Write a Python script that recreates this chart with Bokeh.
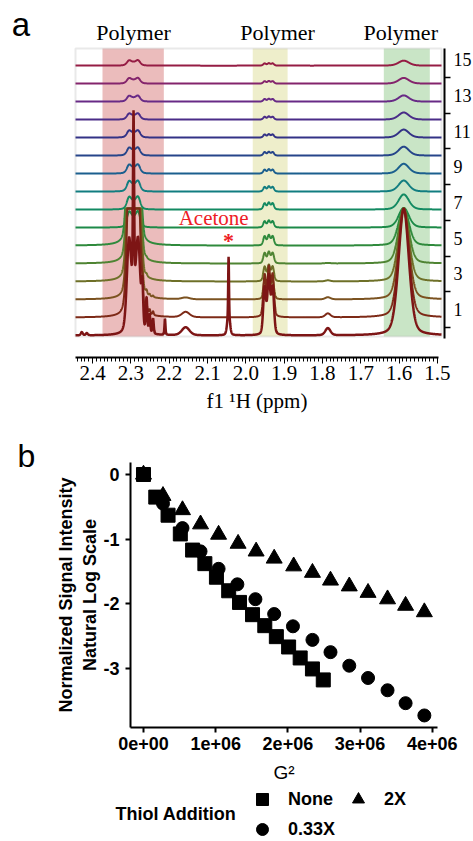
import numpy as np
from bokeh.plotting import figure
from bokeh.layouts import column
from bokeh.models import (Range1d, FixedTicker, BoxAnnotation, Label, Legend,
                          LegendItem, NumeralTickFormatter)
from bokeh.embed import file_html
from bokeh.resources import INLINE

# ======================= Panel a : stacked 1H NMR spectra =======================
TRACE_INDEX = list(range(16))                      # 0 = bottom spectrum
RIGHT_TICKS = [1, 3, 5, 7, 9, 11, 13, 15]
RIGHT_MINOR_TICKS = [0, 2, 4, 6, 8, 10, 12, 14]
PPM_TICKS = [2.4, 2.3, 2.2, 2.1, 2.0, 1.9, 1.8, 1.7, 1.6, 1.5]
TRACE_COLORS = ["#7d1515", "#7d2a17", "#7b5220", "#6e7028", "#4f8433", "#2f8a3c",
                "#1d8a48", "#138a62", "#117d80", "#1b5f8e", "#26458a", "#333286",
                "#4a2c88", "#682a86", "#84246c", "#951c44"]

# peak positions (ppm) and half widths (ppm)
PEAK_PPM = [2.305, 2.293, 2.281, 2.293, 2.270, 2.259, 2.251, 2.242, 2.211, 2.157,
            2.045, 2.045, 1.951, 1.940, 1.930, 1.786, 1.588, 2.428, 2.415]
PEAK_HWHM = [0.0065, 0.0018, 0.0065, 0.013, 0.0025, 0.0022, 0.002, 0.002, 0.0015, 0.012,
             0.0012, 0.004, 0.0042, 0.0042, 0.0042, 0.008, 0.016, 0.003, 0.003]
# peak heights for spectra 0..15 (in units of the stacking offset)
AMP_A1 = [4.5, 6, 6, 6, 6, 6, 0.6, 0.48, 0.4, 0.34, 0.3, 0.27, 0.23, 0.22, 0.21, 0.2]
AMP_A0 = [9.9, 0, 0, 0, 0, 0, 0, 0, 0, 0, 0, 0, 0, 0, 0, 0]
AMP_A2 = [4.5, 6, 6, 6, 6, 6, 0.62, 0.5, 0.42, 0.35, 0.31, 0.28, 0.24, 0.23, 0.22, 0.21]
AMP_AB = [1.5, 4, 4, 4, 4, 4, 0.51, 0.41, 0.34, 0.29, 0.26, 0.23, 0.2, 0.19, 0.18, 0.17]
AMP_T1 = [2.2, 0.6, 0.45, 0.4, 0.35, 0.3, 0.05, 0, 0, 0, 0, 0, 0, 0, 0, 0]
AMP_T2 = [1.9, 0.4, 0.2, 0.1, 0.05, 0, 0, 0, 0, 0, 0, 0, 0, 0, 0, 0]
AMP_T3 = [1.05, 0.25, 0.1, 0, 0, 0, 0, 0, 0, 0, 0, 0, 0, 0, 0, 0]
AMP_T4 = [0.85, 0.2, 0.08, 0, 0, 0, 0, 0, 0, 0, 0, 0, 0, 0, 0, 0]
AMP_S = [0.9, 0, 0, 0, 0, 0, 0, 0, 0, 0, 0, 0, 0, 0, 0, 0]
AMP_E = [0.45, 0.3, 0.1, 0, 0, 0, 0, 0, 0, 0, 0, 0, 0, 0, 0, 0]
AMP_AC = [3.2, 0, 0, 0, 0, 0, 0, 0, 0, 0, 0, 0, 0, 0, 0, 0]
AMP_ACB = [1.2, 0, 0, 0, 0, 0, 0, 0, 0, 0, 0, 0, 0, 0, 0, 0]
AMP_B1 = [2.6, 2.3, 1.05, 0.8, 0.57, 0.5, 0.34, 0.34, 0.25, 0.21, 0.19, 0.17, 0.15, 0.14, 0.13, 0.12]
AMP_B2 = [3.2, 2.7, 1.15, 0.87, 0.62, 0.55, 0.37, 0.37, 0.28, 0.23, 0.2, 0.18, 0.17, 0.15, 0.14, 0.13]
AMP_B3 = [2.6, 2.3, 1.05, 0.8, 0.57, 0.5, 0.34, 0.34, 0.25, 0.21, 0.19, 0.17, 0.15, 0.14, 0.13, 0.12]
AMP_C = [0.4, 0.22, 0.12, 0.06, 0.03, 0, 0, 0, 0, 0, 0, 0, 0, 0, 0, 0]
AMP_D = [7.1, 6.1, 5.1, 4.1, 3.1, 2.1, 1.1, 0.85, 0.62, 0.55, 0.5, 0.45, 0.4, 0.35, 0.32, 0.28]
AMP_N1 = [0.18, 0, 0, 0, 0, 0, 0, 0, 0, 0, 0, 0, 0, 0, 0, 0]
AMP_N2 = [0.12, 0, 0, 0, 0, 0, 0, 0, 0, 0, 0, 0, 0, 0, 0, 0]
PEAK_AMPS = [AMP_A1, AMP_A0, AMP_A2, AMP_AB, AMP_T1, AMP_T2, AMP_T3, AMP_T4, AMP_S, AMP_E,
             AMP_AC, AMP_ACB, AMP_B1, AMP_B2, AMP_B3, AMP_C, AMP_D, AMP_N1, AMP_N2]
LORENTZ_FRACTION = 0.3
CLIPPED_TRACES = [1, 2, 3, 4, 5]
CLIP_LEVEL = 6.67

REGIONS = [(2.374, 2.214, "#ebbcbc"), (1.982, 1.891, "#eeeecb"), (1.640, 1.520, "#c9e5c6")]
REGION_LABELS = [(2.293, "Polymer"), (1.917, "Polymer"), (1.596, "Polymer")]

# ---- layout constants (panel a): the frame covers the whole figure ----
PA_X = (2.6401, 1.4060)
PA_Y = (-5.042, 18.319)
SPEC_LEFT, SPEC_RIGHT = 2.4444, 1.4895     # grey spectrum box
BOX_BOTTOM, BOX_TOP = -0.5, 15.63
RIGHT_AXIS_AT = 1.4817
BOTTOM_AXIS_AT = -1.68
BASE0, STEP = -0.45, 1.008

pa = figure(frame_width=473, frame_height=417, min_border=0,
            x_range=Range1d(*PA_X), y_range=Range1d(*PA_Y),
            y_axis_location="right", output_backend="svg", toolbar_location=None)
pa.outline_line_color = None
pa.xgrid.visible = False
pa.ygrid.visible = False

for (l, r, c) in REGIONS:
    pa.add_layout(BoxAnnotation(left=l, right=r, bottom=BOX_BOTTOM, top=BOX_TOP,
                                fill_color=c, fill_alpha=1.0, line_color=None, level="underlay"))
pa.add_layout(BoxAnnotation(left=SPEC_LEFT, right=SPEC_RIGHT, bottom=BOX_BOTTOM, top=BOX_TOP,
                            fill_color=None, fill_alpha=0, line_color="#b5b5b5", line_width=2,
                            level="underlay"))

ppm = np.linspace(SPEC_LEFT, SPEC_RIGHT, 2600)
for k in reversed(TRACE_INDEX):
    sig = np.zeros_like(ppm)
    for c, w, amps in zip(PEAK_PPM, PEAK_HWHM, PEAK_AMPS):
        if amps[k] > 0:
            u2 = ((ppm - c) / w) ** 2
            shape = (1 - LORENTZ_FRACTION) * np.exp(-np.log(2) * u2) + LORENTZ_FRACTION / (1.0 + u2)
            sig += amps[k] * shape
    yv = BASE0 + STEP * k + sig
    if k in CLIPPED_TRACES:
        yv = np.minimum(yv, CLIP_LEVEL)
    pa.line(ppm, yv, line_color=TRACE_COLORS[k], line_width=2.5 if k == 0 else 2.0)

# right axis (spectrum number)
ya = pa.yaxis[0]
ya.fixed_location = RIGHT_AXIS_AT
ya.ticker = FixedTicker(ticks=RIGHT_TICKS, minor_ticks=RIGHT_MINOR_TICKS)
ya.major_tick_out = 0
ya.major_tick_in = 0
ya.minor_tick_out = 6
ya.minor_tick_in = 0
ya.axis_line_width = 2
ya.axis_line_color = "black"
ya.minor_tick_line_color = "black"
ya.minor_tick_line_width = 1.5
ya.bounds = (-0.62, BOX_TOP)
ya.major_label_standoff = 3
ya.major_label_text_font = "Liberation Serif"
ya.major_label_text_font_size = "18px"
ya.major_label_text_color = "black"

# bottom axis (ppm)
xa = pa.xaxis[0]
xa.fixed_location = BOTTOM_AXIS_AT
minor_ppm = [round(v, 2) for v in np.arange(1.50, 2.445, 0.01)]
xa.ticker = FixedTicker(ticks=PPM_TICKS, minor_ticks=minor_ppm)
xa.formatter = NumeralTickFormatter(format="0.0")
xa.bounds = (1.4973, SPEC_LEFT)
xa.axis_line_width = 2
xa.axis_line_color = "black"
xa.major_tick_out = 6
xa.major_tick_in = 0
xa.minor_tick_out = 4
xa.minor_tick_in = 0
xa.major_tick_line_color = "black"
xa.minor_tick_line_color = "black"
xa.major_label_standoff = 3
xa.major_label_text_font = "Liberation Serif"
xa.major_label_text_font_size = "21px"
xa.major_label_text_color = "black"
xa.axis_label = "f1 \u00b9H (ppm)"
xa.axis_label_text_font = "Liberation Serif"
xa.axis_label_text_font_style = "normal"
xa.axis_label_text_font_size = "21px"
xa.axis_label_text_color = "black"
xa.axis_label_standoff = 5

for (xc, t) in REGION_LABELS:
    pa.add_layout(Label(x=xc, y=16.53, text=t, text_font="Liberation Serif",
                        text_font_size="22px", text_align="center", text_baseline="middle",
                        text_color="black"))
pa.add_layout(Label(x=2.084, y=6.16, text="Acetone", text_font="Liberation Serif",
                    text_font_size="21px", text_align="center", text_baseline="middle",
                    text_color="#ee1c25"))
pa.add_layout(Label(x=2.045, y=4.9, text="*", text_font="Liberation Serif",
                    text_font_size="22px", text_align="center", text_baseline="middle",
                    text_color="#ee1c25", text_font_style="bold"))
pa.add_layout(Label(x=2.611, y=17.0, text="a", text_font="Liberation Sans",
                    text_font_size="33px", text_align="left", text_baseline="middle",
                    text_color="black"))

# ======================= Panel b : diffusion decay =======================
NONE_G2 = [0, 0.17e6, 0.34e6, 0.51e6, 0.68e6, 0.85e6, 1.01e6, 1.18e6, 1.33e6, 1.51e6,
           1.68e6, 1.84e6, 2.01e6, 2.17e6, 2.34e6, 2.49e6]
NONE_LN = [0, -0.35, -0.63, -0.92, -1.17, -1.38, -1.59, -1.80, -1.98, -2.17,
           -2.34, -2.51, -2.67, -2.84, -3.01, -3.18]
X033_G2 = [0, 0.27e6, 0.54e6, 0.79e6, 1.04e6, 1.30e6, 1.55e6, 1.81e6, 2.07e6, 2.34e6,
           2.59e6, 2.85e6, 3.11e6, 3.38e6, 3.63e6, 3.89e6]
X033_LN = [0, -0.45, -0.83, -1.19, -1.46, -1.70, -1.93, -2.16, -2.35, -2.56,
           -2.75, -2.96, -3.15, -3.34, -3.54, -3.73]
X2_G2 = [0, 0.27e6, 0.54e6, 0.79e6, 1.04e6, 1.31e6, 1.56e6, 1.81e6, 2.08e6, 2.34e6,
         2.59e6, 2.85e6, 3.11e6, 3.38e6, 3.63e6, 3.89e6]
X2_LN = [0, -0.33, -0.55, -0.77, -0.93, -1.07, -1.19, -1.30, -1.42, -1.52,
         -1.64, -1.73, -1.83, -1.93, -2.03, -2.13]
G2_TICKS = [0, 1e6, 2e6, 3e6, 4e6]
G2_TICK_LABELS = ["0e+00", "1e+06", "2e+06", "3e+06", "4e+06"]
LN_TICKS = [0, -1, -2, -3]
LN_TICK_LABELS = ["0", "-1", "-2", "-3"]

# ---- layout constants (panel b): the frame covers the whole figure ----
PB_X = (-1.98061e6, 4.57064e6)
PB_Y = (-5.6811, 0.88235)
LEFT_AXIS_AT = -0.18006e6
XAXIS_AT = -3.9164
PB_XBOUNDS = (-0.18006e6, 4.0720e6)
PB_YBOUNDS = (-3.9164, 0.186)

pb = figure(frame_width=473, frame_height=424, min_border=0,
            x_range=Range1d(*PB_X), y_range=Range1d(*PB_Y),
            output_backend="svg", toolbar_location=None)
pb.outline_line_color = None
pb.xgrid.visible = False
pb.ygrid.visible = False

r2x = pb.scatter(X2_G2, X2_LN, marker="triangle", size=16, color="black")
r033 = pb.scatter(X033_G2, X033_LN, marker="circle", size=13, color="black")
rnone = pb.scatter(NONE_G2, NONE_LN, marker="square", size=14, color="black")

for ax in (pb.xaxis[0], pb.yaxis[0]):
    ax.axis_line_width = 2
    ax.axis_line_color = "black"
    ax.major_tick_out = 5
    ax.major_tick_in = 0
    ax.major_tick_line_width = 2
    ax.major_tick_line_color = "black"
    ax.minor_tick_out = 0
    ax.minor_tick_in = 0
    ax.major_label_text_font = "Liberation Sans"
    ax.major_label_text_font_style = "bold"
    ax.major_label_text_font_size = "18px"
    ax.major_label_text_color = "black"
    ax.axis_label_text_color = "black"
    ax.axis_label_text_font = "Liberation Sans"

bx = pb.xaxis[0]
bx.fixed_location = XAXIS_AT
bx.bounds = PB_XBOUNDS
bx.ticker = FixedTicker(ticks=G2_TICKS)
bx.major_label_overrides = dict(zip(G2_TICKS, G2_TICK_LABELS))
bx.major_label_standoff = 4
bx.axis_label = "G\u00b2"
bx.axis_label_text_font_style = "normal"
bx.axis_label_text_font_size = "19px"
bx.axis_label_standoff = 9

by = pb.yaxis[0]
by.fixed_location = LEFT_AXIS_AT
by.bounds = PB_YBOUNDS
by.ticker = FixedTicker(ticks=LN_TICKS)
by.major_label_overrides = dict(zip(LN_TICKS, LN_TICK_LABELS))
by.major_label_standoff = 6
by.axis_label = "Normalized Signal Intensity\nNatural Log Scale"
by.axis_label_text_font_style = "bold"
by.axis_label_text_font_size = "18px"
by.axis_label_standoff = 0

legend = Legend(items=[LegendItem(label="None", renderers=[rnone]),
                       LegendItem(label="0.33X", renderers=[r033]),
                       LegendItem(label="2X", renderers=[r2x])],
                location=(247, -3), orientation="vertical", nrows=2,
                glyph_width=30, glyph_height=30, spacing=0, label_standoff=11,
                label_width=55, padding=0, margin=0,
                border_line_color=None, background_fill_alpha=0,
                label_text_font="Liberation Sans", label_text_font_style="bold",
                label_text_font_size="18px", label_text_color="black")
pb.add_layout(legend, "center")
pb.add_layout(Label(x=-0.388e6, y=-5.263, text="Thiol Addition", text_font="Liberation Sans",
                    text_font_style="bold", text_font_size="18px", text_align="left",
                    text_baseline="middle", text_color="black"))
pb.add_layout(Label(x=-1.745e6, y=0.294, text="b", text_font="Liberation Sans",
                    text_font_size="32px", text_align="left", text_baseline="middle",
                    text_color="black"))

layout = column(pa, pb, spacing=0)
open("out.html", "w").write(file_html(layout, INLINE))
